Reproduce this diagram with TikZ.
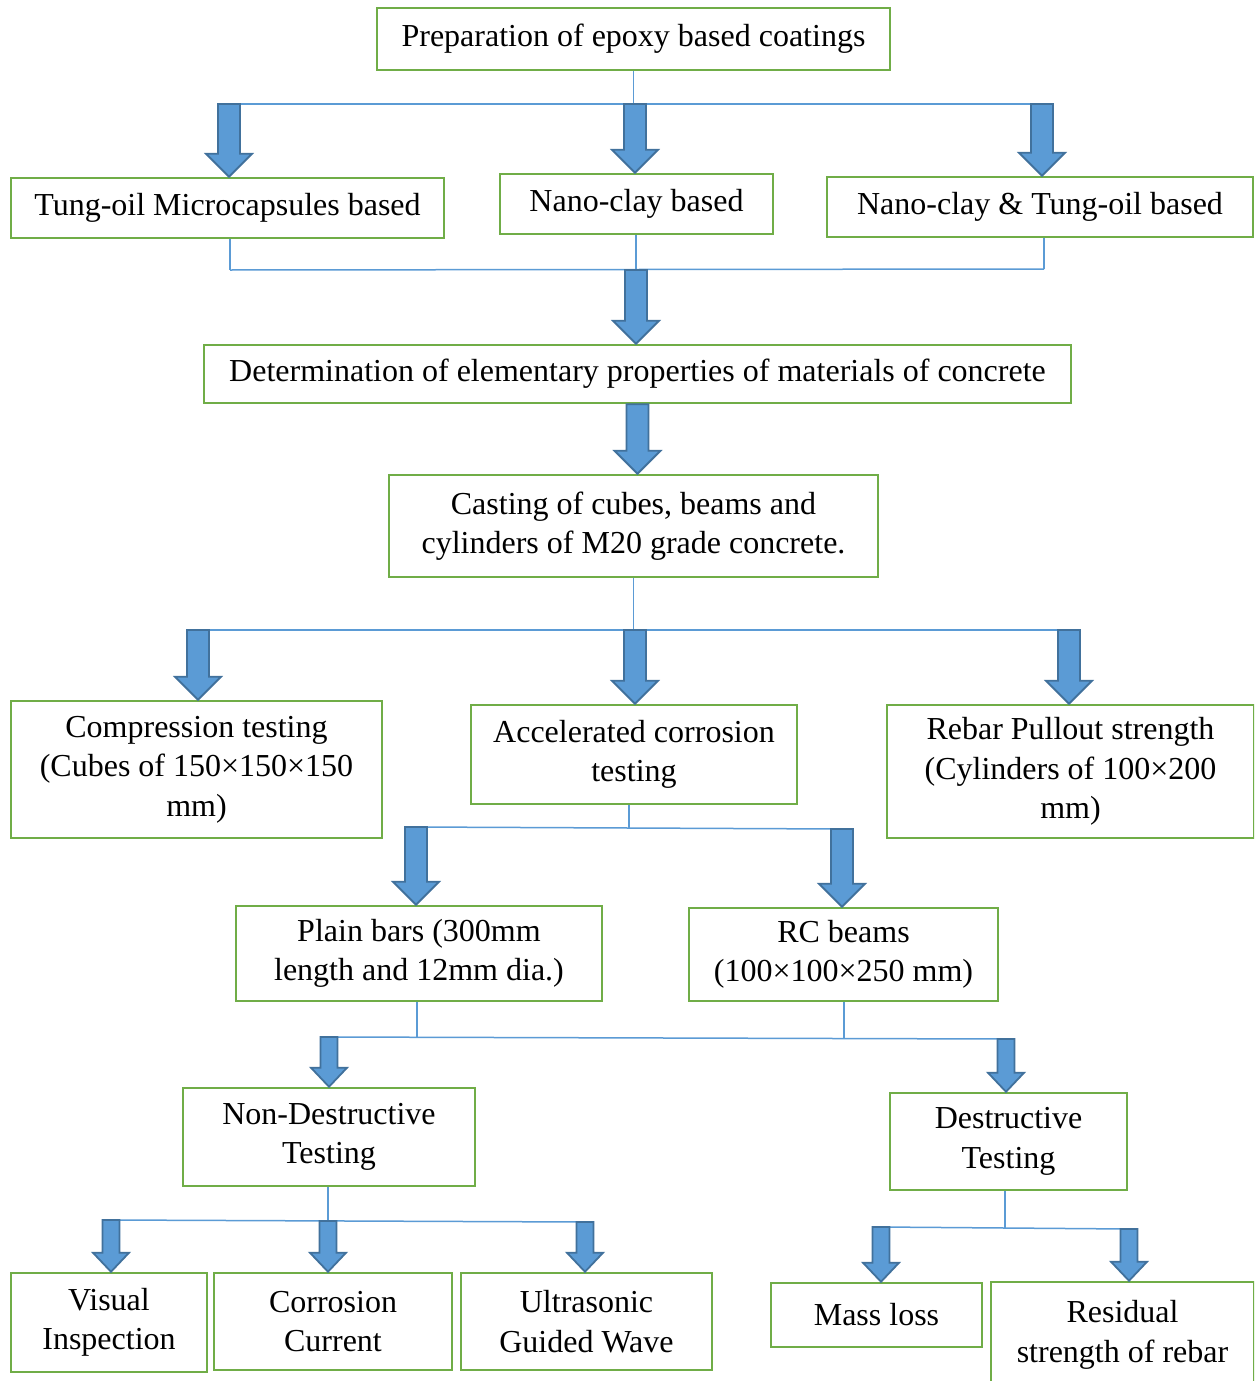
\documentclass[tikz,border=0pt]{standalone}
\usepackage{fontspec}
\setmainfont{Liberation Serif}
\usetikzlibrary{calc}
\definecolor{boxgreen}{HTML}{70AD47}
\definecolor{connblue}{HTML}{5B9BD5}
\definecolor{arrfill}{HTML}{5B9BD5}
\definecolor{arrline}{HTML}{41719C}
\tikzset{
  box/.style={draw=boxgreen, line width=2.5pt, inner sep=0pt, align=center,
    font=\fontsize{32}{39.5}\selectfont, text=black},
  conn/.style={draw=connblue, line width=1.5pt},
  arr/.style={fill=arrfill, draw=arrline, line width=1.8pt, line join=miter},
}
% #1 top point, #2 target node, #3 shaft half width, #4 head half width, #5 head length
\newcommand\blockarrow[5]{%
  \filldraw[arr] let \p1=(#1), \p2=(#2.north) in
    (\x1-#3,\y1) -- (\x1+#3,\y1) -- (\x1+#3,\y2+#5) -- (\x1+#4,\y2+#5) --
    (\x1,\y2) -- (\x1-#4,\y2+#5) -- (\x1-#3,\y2+#5) -- cycle;}
\newcommand\bigarr[2]{\blockarrow{#1}{#2}{11pt}{23pt}{23pt}}
\newcommand\smallarr[2]{\blockarrow{#1}{#2}{8.5pt}{18pt}{19pt}}
\begin{document}
\begin{tikzpicture}[x=1pt, y=-1pt]
\useasboundingbox (0,0) rectangle (1254,1381);
\clip (0,0) rectangle (1254,1381);
\fill[white] (0,0) rectangle (1254,1381);

% boxes
\node[box, minimum width=513pt, minimum height=62pt] (prep) at (633.5,39) {Preparation of epoxy based coatings};
\node[box, minimum width=433pt, minimum height=60pt] (tung) at (227.5,208) {Tung-oil Microcapsules based};
\node[box, minimum width=273pt, minimum height=60pt] (nano) at (636.5,204) {Nano-clay based};
\node[box, minimum width=426pt, minimum height=60pt] (both) at (1040,207) {Nano-clay \& Tung-oil based};
\node[box, minimum width=867pt, minimum height=58pt] (det) at (637.5,374) {Determination of elementary properties of materials of concrete};
\node[box, minimum width=489pt, minimum height=102pt] (cast) at (633.5,526) {Casting of cubes, beams and\\cylinders of M20 grade concrete.};
\node[box, minimum width=371pt, minimum height=137pt] (comp) at (196.5,769.5) {Compression testing\\(Cubes of 150×150×150\\mm)};
\node[box, minimum width=326pt, minimum height=99pt] (acc) at (634,754.5) {Accelerated corrosion\\testing};
\node[box, minimum width=367pt, minimum height=133pt] (rebar) at (1070.5,771.5) {Rebar Pullout strength\\(Cylinders of 100×200\\mm)};
\node[box, minimum width=366pt, minimum height=95pt] (plain) at (419,953.5) {Plain bars (300mm\\length and 12mm dia.)};
\node[box, minimum width=309pt, minimum height=93pt] (rc) at (843.5,954.5) {RC beams\\(100×100×250 mm)};
\node[box, minimum width=292pt, minimum height=98pt] (ndt) at (329,1137) {Non-Destructive\\Testing};
\node[box, minimum width=237pt, minimum height=97pt] (dt) at (1008.5,1141.5) {Destructive\\Testing};
\node[box, minimum width=196pt, minimum height=99pt] (vis) at (109,1322.5) {Visual\\Inspection};
\node[box, minimum width=238pt, minimum height=97pt] (cur) at (333,1321.5) {Corrosion\\Current};
\node[box, minimum width=251pt, minimum height=97pt] (ult) at (586.5,1321.5) {Ultrasonic\\Guided Wave};
\node[box, minimum width=211pt, minimum height=64pt] (mass) at (876.5,1315) {Mass loss};
\node[box, minimum width=263pt, minimum height=106pt] (res) at (1122.5,1335) {Residual\\strength of rebar};

% bus coordinates
\coordinate (b1l) at (229,104);  \coordinate (b1m) at (635,104);  \coordinate (b1r) at (1042,104);
\coordinate (b2l) at (230,270);  \coordinate (b2m) at (636,270);  \coordinate (b2r) at (1044,269);
\coordinate (b3l) at (198,630);  \coordinate (b3m) at (635,630);  \coordinate (b3r) at (1069,630);
\coordinate (b4l) at (416,827);  \coordinate (b4m) at (629,828);  \coordinate (b4r) at (842,829);
\coordinate (b5l) at (329,1037); \coordinate (b5a) at (417,1037); \coordinate (b5b) at (844,1038); \coordinate (b5r) at (1006,1039);
\coordinate (b6l) at (111,1220); \coordinate (b6m) at (328,1221); \coordinate (b6r) at (585,1222);
\coordinate (b7l) at (881,1227); \coordinate (b7m) at (1005,1228); \coordinate (b7r) at (1129,1229);

% connector lines
\draw[conn] (prep.south) -- (prep.south |- b1m);
\draw[conn] (b1l) -- (b1r);
\draw[conn] (b2l |- tung.south) -- (b2l);
\draw[conn] (b2m |- nano.south) -- (b2m);
\draw[conn] (b2r |- both.south) -- (b2r);
\draw[conn] (b2l) -- (b2r);
\draw[conn] (cast.south) -- (cast.south |- b3m);
\draw[conn] (b3l) -- (b3r);
\draw[conn] (b4m |- acc.south) -- (b4m);
\draw[conn] (b4l) -- (b4r);
\draw[conn] (b5a |- plain.south) -- (b5a);
\draw[conn] (b5b |- rc.south) -- (b5b);
\draw[conn] (b5l) -- (b5r);
\draw[conn] (b6m |- ndt.south) -- (b6m);
\draw[conn] (b6l) -- (b6r);
\draw[conn] (b7m |- dt.south) -- (b7m);
\draw[conn] (b7l) -- (b7r);

% block arrows
\bigarr{b1l}{tung}
\bigarr{b1m}{nano}
\bigarr{b1r}{both}
\bigarr{b2m}{det}
\bigarr{det.south}{cast}
\bigarr{b3l}{comp}
\bigarr{b3m}{acc}
\bigarr{b3r}{rebar}
\bigarr{b4l}{plain}
\bigarr{b4r}{rc}
\smallarr{b5l}{ndt}
\smallarr{b5r}{dt}
\smallarr{b6l}{vis}
\smallarr{b6m}{cur}
\smallarr{b6r}{ult}
\smallarr{b7l}{mass}
\smallarr{b7r}{res}
\end{tikzpicture}
\end{document}
